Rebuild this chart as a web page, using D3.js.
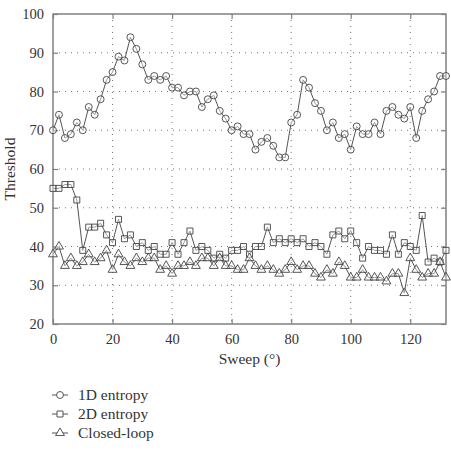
<!DOCTYPE html>
<html><head><meta charset="utf-8">
<script src="https://cdn.jsdelivr.net/npm/d3@7"></script>
</head><body style="margin:0;background:#fff"><svg id="c" width="451" height="450" style="display:block"></svg>
<script>
const sweep = d3.range(0, 133, 2);
const entropy1D = [70,74,68,69,72,70,76,74,78,83,85,89,88,94,91,87,83,84,83,84,81,81,79,80,80,76,78,79,75,73,70,71,69,69,65,67,68,66,63,63,72,74,83,81,77,75,70,72,68,69,65,71,69,69,72,69,75,76,74,73,76,68,75,78,80,84,84];
const entropy2D = [55,55,56,56,52,39,45,45,46,43,41,47,42,43,40,41,39,40,38,38,41,38,41,44,39,40,39,37,38,37,39,39,40,38,40,40,45,41,42,41,42,41,42,40,41,40,38,43,44,42,44,41,37,40,39,39,38,43,38,41,40,39,48,36,37,36,39];
const closedLoop = [38,40,35,37,35,36,38,36,37,39,34,38,36,35,37,36,37,37,34,35,33,35,35,36,35,37,37,35,37,35,35,34,34,37,35,34,35,34,33,34,36,34,35,35,33,32,34,33,36,35,32,32,34,32,32,32,31,33,33,28,37,34,32,33,33,36,32];
const xTicks = [0,20,40,60,80,100,120];
const yTicks = [20,30,40,50,60,70,80,90,100];
const seriesNames = ["1D entropy","2D entropy","Closed-loop"];

const FONT = "'Liberation Serif', 'Times New Roman', serif";
const svg = d3.select("#c");
const L=53, R=446, T=14, B=324;
const x = d3.scaleLinear().domain([0,132]).range([L,R]);
const y = d3.scaleLinear().domain([20,100]).range([B,T]);
const grid = "#777", frame = "#808080", lineC = "#555";

// gridlines
const g = svg.append("g");
g.selectAll(".gx").data(xTicks.slice(1)).join("line")
 .attr("x1",d=>x(d)).attr("x2",d=>x(d)).attr("y1",T).attr("y2",B)
 .attr("stroke",grid).attr("stroke-width",1).attr("stroke-dasharray","1,5");
g.selectAll(".gy").data(yTicks.slice(1,-1)).join("line")
 .attr("y1",d=>y(d)).attr("y2",d=>y(d)).attr("x1",L).attr("x2",R)
 .attr("stroke",grid).attr("stroke-width",1).attr("stroke-dasharray","1,5");

// axes
const xa = svg.append("g").attr("transform",`translate(0,${B})`)
 .call(d3.axisBottom(x).tickValues(xTicks).tickSize(-5).tickPadding(10).tickFormat(d3.format("d")));
const xt = svg.append("g").attr("transform",`translate(0,${T})`)
 .call(d3.axisTop(x).tickValues(xTicks).tickSize(-5).tickFormat(""));
const ya = svg.append("g").attr("transform",`translate(${L},0)`)
 .call(d3.axisLeft(y).tickValues(yTicks).tickSize(-5).tickPadding(9).tickFormat(d3.format("d")));
const yr = svg.append("g").attr("transform",`translate(${R},0)`)
 .call(d3.axisRight(y).tickValues(yTicks).tickSize(-5).tickFormat(""));
[xa,xt,ya,yr].forEach(a=>{
  a.attr("font-family",FONT).attr("font-size",14);
  a.select(".domain").remove();
  a.selectAll(".tick line").attr("stroke",frame).attr("stroke-width",1.2);
  a.selectAll("text").attr("font-size",14.5).attr("fill","#333").style("font-family",FONT);
});
svg.append("rect").attr("x",L).attr("y",T).attr("width",R-L).attr("height",B-T)
 .attr("fill","none").attr("stroke",frame).attr("stroke-width",1.5);

// titles
svg.append("text").attr("x",(L+R)/2).attr("y",364).attr("text-anchor","middle")
 .style("font-family",FONT).attr("font-size",15.5).attr("fill","#333").text("Sweep (°)");
svg.append("text").attr("transform",`translate(15,${(T+B)/2}) rotate(-90)`).attr("text-anchor","middle")
 .style("font-family",FONT).attr("font-size",15.5).attr("fill","#333").text("Threshold");

// series
const data = [entropy1D, entropy2D, closedLoop];
const line = d3.line().x((d,i)=>x(sweep[i])).y(d=>y(d));
const symbols = [d3.symbolCircle, d3.symbolSquare, d3.symbolTriangle];
const sizes = [38, 36, 34];
data.forEach((vals,k)=>{
  svg.append("path").datum(vals).attr("d",line).attr("fill","none").attr("stroke",lineC).attr("stroke-width",1);
  svg.append("g").selectAll("path").data(vals).join("path")
   .attr("transform",(d,i)=>`translate(${x(sweep[i])},${y(d)})`)
   .attr("d",d3.symbol().type(symbols[k]).size(sizes[k]))
   .attr("fill","#fff").attr("fill-opacity",0.4).attr("stroke","#444").attr("stroke-width",0.9);
});

// legend
const lg = svg.append("g");
seriesNames.forEach((n,k)=>{
  const yy = 395 + k*19;
  lg.append("line").attr("x1",52).attr("x2",68).attr("y1",yy).attr("y2",yy).attr("stroke",lineC).attr("stroke-width",1);
  lg.append("path").attr("transform",`translate(60,${yy})`).attr("d",d3.symbol().type(symbols[k]).size(sizes[k]))
    .attr("fill","#fff").attr("stroke","#444").attr("stroke-width",0.9);
  lg.append("text").attr("x",78).attr("y",yy+5).style("font-family",FONT).attr("font-size",15.5).attr("fill","#333").text(n);
});
</script></body></html>
